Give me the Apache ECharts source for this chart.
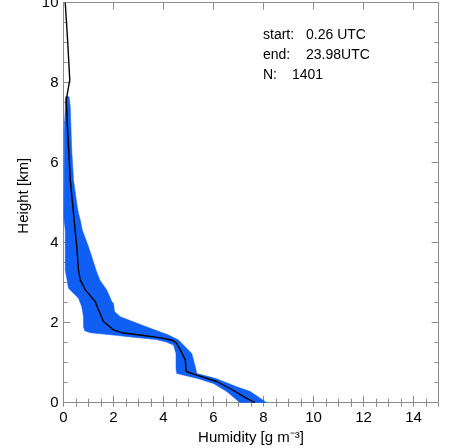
<!DOCTYPE html>
<html>
<head>
<meta charset="utf-8">
<script src="https://cdn.jsdelivr.net/npm/echarts@6/dist/echarts.min.js"></script>
<style>
html,body{margin:0;padding:0;background:#fff;}
#chart{width:457px;height:448px;}
</style>
</head>
<body>
<div id="chart"></div>
<script>
// Mean humidity profile: [humidity g/m3, height km]
const meanHeights = [0.0, 0.11, 0.33, 0.53, 0.69, 0.78, 1.07, 1.32, 1.4, 1.5, 1.56, 1.62, 1.68, 1.75, 1.82, 2.03, 2.32, 2.53, 2.82, 3.07, 3.32, 3.9, 4.73, 5.57, 6.4, 7.0, 7.57, 8.07, 9.0, 10.0];
const meanValues  = [7.65, 7.33, 6.73, 6.13, 5.33, 4.91, 4.87, 4.67, 4.6, 4.5, 4.35, 3.9, 3.2, 2.33, 2.0, 1.6, 1.4, 1.27, 0.87, 0.67, 0.6, 0.53, 0.4, 0.27, 0.2, 0.15, 0.11, 0.25, 0.17, 0.07];

// Lower boundary of the spread band
const lowHeights = [0.0, 0.07, 0.28, 0.48, 0.61, 0.73, 0.85, 1.23, 1.44, 1.52, 1.58, 1.65, 1.69, 1.75, 1.8, 1.9, 2.15, 2.4, 2.61, 2.86, 3.11, 3.3, 4.3, 4.6, 6.8, 7.4, 7.65];
const lowValues  = [7.07, 6.93, 6.53, 6.0, 5.33, 4.53, 4.5, 4.5, 4.4, 4.1, 3.7, 2.6, 2.0, 1.07, 0.85, 0.8, 0.8, 0.73, 0.6, 0.2, 0.13, 0.07, 0.07, 0.02, 0.03, 0.07, 0.08];

// Upper boundary of the spread band
const highHeights = [0.0, 0.11, 0.28, 0.4, 0.61, 0.73, 0.9, 1.23, 1.44, 1.57, 1.69, 1.94, 2.15, 2.28, 2.48, 2.53, 2.82, 3.07, 3.32, 3.9, 4.32, 4.57, 4.73, 4.9, 5.57, 6.3, 6.82, 7.4, 7.65];
const highValues  = [8.13, 7.87, 7.47, 6.93, 6.07, 5.33, 5.27, 5.13, 4.8, 4.6, 4.2, 3.13, 2.27, 2.04, 2.0, 1.93, 1.73, 1.45, 1.3, 1.0, 0.75, 0.67, 0.6, 0.55, 0.4, 0.33, 0.3, 0.27, 0.22];

const xMajorTicks = [0, 2, 4, 6, 8, 10, 12, 14];
const yMajorTicks = [0, 2, 4, 6, 8, 10];

const infoLines = [
  ['start:', '0.26 UTC'],
  ['end:', '23.98UTC'],
  ['N:', '1401']
];

const FONT = 'Liberation Sans, Arial, Helvetica, sans-serif';
const AX = '#8c8c8c';

const chart = echarts.init(document.getElementById('chart'), null, {renderer: 'canvas'});

const meanData = meanHeights.map((h, i) => [meanValues[i], h]);
const lowData = lowHeights.map((h, i) => [lowValues[i], h]);
const highData = highHeights.map((h, i) => [highValues[i], h]);

function majorX(pos, showLabel) {
  return {
    type: 'value', min: 0, max: 15, interval: 2, position: pos,
    axisLine: {show: true, onZero: false, lineStyle: {color: AX, width: 1}},
    axisTick: {show: true, inside: true, length: 7, lineStyle: {color: AX}},
    axisLabel: {show: showLabel, showMaxLabel: false, color: '#000', fontSize: 15, fontFamily: FONT, margin: 8,
      formatter: v => xMajorTicks.indexOf(v) >= 0 ? String(v) : ''},
    splitLine: {show: false},
    name: showLabel ? 'Humidity [g m⁻³]' : '',
    nameLocation: 'middle', nameGap: 26,
    nameTextStyle: {color: '#000', fontSize: 15, fontFamily: FONT}
  };
}
function minorX(pos) {
  return {
    type: 'value', min: 0, max: 15, interval: 0.5, position: pos,
    axisLine: {show: false},
    axisTick: {show: true, inside: true, length: 4, lineStyle: {color: AX}},
    axisLabel: {show: false},
    splitLine: {show: false}
  };
}
function yAx(pos, showLabel) {
  return {
    type: 'value', min: 0, max: 10, interval: 2, position: pos,
    axisLine: {show: true, onZero: false, lineStyle: {color: AX, width: 1}},
    axisTick: {show: true, inside: true, length: 7, lineStyle: {color: AX}},
    minorTick: {show: true, splitNumber: 4, length: 4, lineStyle: {color: AX}},
    axisLabel: {show: showLabel, color: '#000', fontSize: 15, fontFamily: FONT, margin: 5,
      formatter: v => yMajorTicks.indexOf(v) >= 0 ? String(v) : ''},
    splitLine: {show: false},
    minorSplitLine: {show: false},
    name: showLabel ? 'Height [km]' : '',
    nameLocation: 'middle', nameGap: 19, nameRotate: 90,
    nameTextStyle: {color: '#000', fontSize: 15, fontFamily: FONT, padding: [0, 0, 0, 14]}
  };
}

const graphics = [];
infoLines.forEach((ln, i) => {
  const y = 36 + i * 20;
  graphics.push({type: 'text', left: 263, top: y - 8, style: {text: ln[0], fill: '#000', font: '14px ' + FONT}});
  graphics.push({type: 'text', left: i === 2 ? 292 : 306, top: y - 8, style: {text: ln[1], fill: '#000', font: '14px ' + FONT}});
});

chart.setOption({
  animation: false,
  backgroundColor: '#fff',
  grid: {left: 63.5, right: 18.5, top: 2.7, bottom: 45.3, containLabel: false, outerBoundsMode: 'none'},
  xAxis: [majorX('bottom', true), minorX('bottom'), majorX('top', false), minorX('top')],
  yAxis: [yAx('left', true), yAx('right', false)],
  graphic: graphics,
  series: [
    {
      type: 'custom',
      xAxisIndex: 0, yAxisIndex: 0,
      clip: true,
      data: [[0, 0]],
      renderItem: function (params, api) {
        const pts = [];
        lowData.forEach(p => pts.push(api.coord(p)));
        for (let i = highData.length - 1; i >= 0; i--) pts.push(api.coord(highData[i]));
        return {type: 'polygon', shape: {points: pts}, style: {fill: '#0f5ff5', stroke: '#0f5ff5', lineWidth: 0.5}};
      },
      z: 2
    },
    {
      type: 'line',
      xAxisIndex: 0, yAxisIndex: 0,
      data: meanData,
      showSymbol: false,
      lineStyle: {color: '#000', width: 1.4},
      z: 3
    }
  ]
});
</script>
</body>
</html>
